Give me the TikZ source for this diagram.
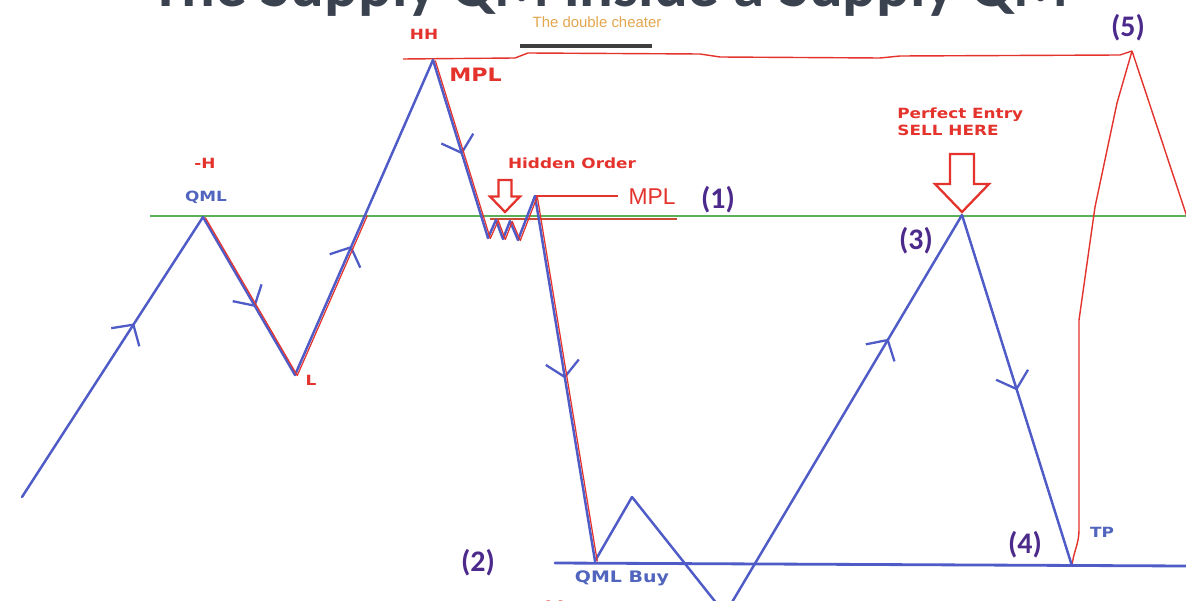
\documentclass[tikz,border=0pt]{standalone}
\usepackage{fontspec}
\setmainfont{DejaVu Sans}
\newfontfamily\lblfont[FakeStretch=1.2]{DejaVu Sans}
\newfontfamily\numfont{Carlito}
\newfontfamily\handfont{Liberation Sans}
\usepackage{graphicx}
\usepackage{xcolor}
\usepackage{tikz}
\usetikzlibrary{arrows.meta,calc,decorations.markings}
\definecolor{leg}{HTML}{4F5BC6}
\definecolor{lbl}{HTML}{5265BE}
\definecolor{hot}{HTML}{E4332C}
\definecolor{grn}{HTML}{5BAF5B}
\definecolor{pur}{HTML}{4C2A8C}
\definecolor{ttl}{HTML}{3A4250}
\definecolor{tan}{HTML}{E3A64E}
\definecolor{bar}{HTML}{3E3E3E}
\tikzset{
  zig/.style={draw=leg,line width=1.4pt,line cap=round,line join=round},
  trace/.style={draw=hot,line width=0.7pt,line join=round,transform canvas={xshift=1.3pt,yshift=-0.3pt}},
  thinred/.style={draw=hot,line width=0.8pt,line join=round},
  level/.style={draw=grn,line width=1.2pt},
  midarr/.style={postaction={decorate},decoration={markings,mark=at position #1 with {\arrow{Straight Barb[length=8.5pt,width=19pt,line width=1.3pt]}}}},
  tag/.style={font=\lblfont\bfseries\fontsize{8}{9.5}\selectfont,inner sep=0pt,text=lbl},
  redtag/.style={tag,text=hot},
  num/.style={font=\numfont\bfseries\fontsize{17}{17}\selectfont,inner sep=0pt,text=pur},
  hollow/.style={draw=hot,line width=1.3pt,fill=white,line join=miter},
  entry/.pic={\draw[hollow] (0,0) -- (-27,-28) -- (-12,-28) -- (-12,-58) -- (12,-58) -- (12,-28) -- (27,-28) -- cycle;},
}

\begin{document}
\begin{tikzpicture}[x=0.02cm,y=-0.02cm]
\useasboundingbox (0,0) rectangle (1186,601);
\fill[white] (0,0) rectangle (1186,601);
\clip (0,0) rectangle (1186,601);
\node[font=\numfont\bfseries,text=ttl,anchor=base,inner sep=0pt] (title) at (609,7) {\resizebox{18.36cm}{!}{The Supply QM inside a Supply QM}};
\coordinate (st) at (22,497);
\coordinate (qml) at (203,217);
\coordinate (lo) at (295,375);
\coordinate (hh) at (433,60);
\coordinate (w1) at (488,238);
\coordinate (w2) at (496,220);
\coordinate (w3) at (503,239);
\coordinate (w4) at (510,221);
\coordinate (w5) at (518,240);
\coordinate (wpk) at (535,196);
\coordinate (qb) at (595,561);
\coordinate (pk2) at (632,497);
\coordinate (vb) at (725,614);
\coordinate (p3) at (962,215);
\coordinate (p4) at (1072,566);
\coordinate (p5) at (1132,51);
\coordinate (cr) at ($(lo)!0.508!(hh)$);
\coordinate (g0) at (150,216);
\coordinate (g1) at (1186,216);
\coordinate (b0) at (555,563);
\coordinate (b1) at (1186,566);
\coordinate (t0) at (403,59);
\coordinate (m1) at (618,196);
\coordinate (s0) at (490,219);
\coordinate (s1) at (677,219);
\draw[level] (g0) -- (g1);
\draw[hot!80!grn,line width=1.1pt] (s0) -- (s1);
\draw[zig,line width=1.6pt] (b0) -- (b1);
\draw[bar,line width=2.4pt] (520,46) -- (652,46);
\draw[thinred] (t0) -- (515,58) -- (528,53) -- (700,54) -- (720,57) -- (880,58) -- (900,56) -- (1120,55) -- (p5);
\draw[thinred] (wpk) -- (m1);
\draw[thinred] (p4) to[out=85,in=-90] (1079,530) -- (1079,320) -- (1095,207) -- (1117,103) -- (p5);
\draw[thinred] (p5) -- (1192,232);
\foreach \a/\b/\p in {st/qml/0.62,qml/lo/0.57,lo/hh/0.41,hh/w1/0.53,wpk/qb/0.5,vb/p3/0.69,p3/p4/0.5}{\draw[zig,midarr=\p] (\a) -- (\b);}
\draw[zig] (w1) -- (w2) -- (w3) -- (w4) -- (w5) -- (wpk);
\draw[zig] (qb) -- (pk2) -- (vb);
\draw[trace] (qml) -- (lo) -- (cr);
\draw[trace] (hh) -- (w1) -- (w2) -- (w3) -- (w4) -- (w5) -- (wpk) -- (qb);
\pic (sell) at (962,212) {entry};
\pic[scale=0.55] (hide) at (505,212) {entry};
\node[redtag] (hhlab) at (424,34) {HH};
\node[redtag,font=\lblfont\bfseries\fontsize{10.5}{12}\selectfont,anchor=west] (mpl) at (449,75) {MPL};
\node[redtag] (hlab) at (205,163) {-H};
\node[tag] (qmllab) at (206,197) {QML};
\node[redtag] (llab) at (311,380) {L};
\node[redtag] (hidden) at (572,163) {Hidden Order};
\node[font=\handfont\fontsize{13}{13}\selectfont,text=hot,inner sep=0pt] (mpl2) at (652,197) {MPL};
\node[num] (n1) at (718,200) {(1)};
\node[redtag,align=left,anchor=west] (perfect) at (897,122) {Perfect Entry\\SELL HERE};
\node[num] (n3) at (916,241) {(3)};
\node[num] (n5) at (1128,28) {(5)};
\node[num] (n2) at (478,563) {(2)};
\node[num] (n4) at (1025,545) {(4)};
\node[tag,font=\lblfont\bfseries\fontsize{9}{10}\selectfont] (qmlbuy) at (622,578) {QML Buy};
\node[tag] (tp) at (1102,532) {TP};
\node[font=\handfont\fontsize{8.5}{9}\selectfont,text=tan,inner sep=0pt] (cheat) at (597,22) {The double cheater};
\node[redtag,font=\lblfont\bfseries\fontsize{9}{10}\selectfont] (ll) at (557,607) {LL};
\end{tikzpicture}
\end{document}
